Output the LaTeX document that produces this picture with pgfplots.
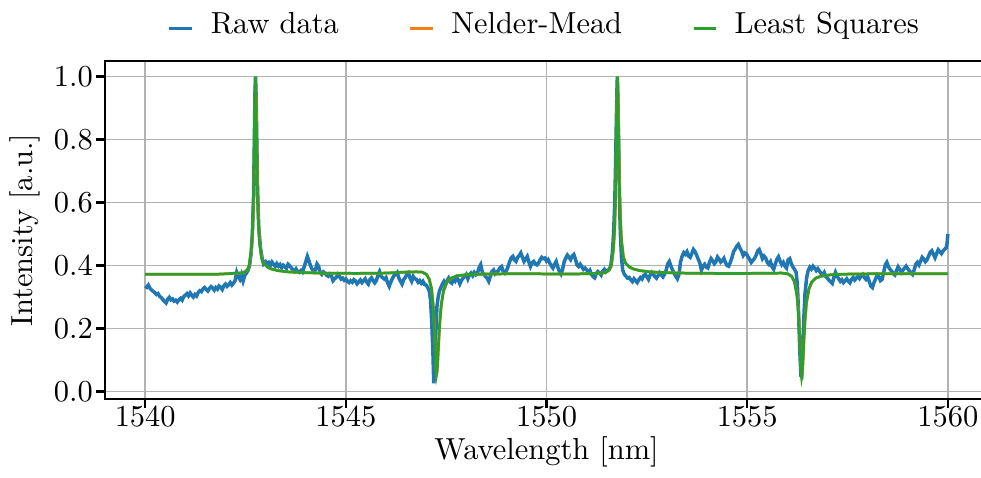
\documentclass[border=0pt]{standalone}
\usepackage{pgfplots}
\pgfplotsset{compat=1.18}
\definecolor{rawblue}{HTML}{1F77B4}
\definecolor{nmorange}{HTML}{FF7F0E}
\definecolor{lsgreen}{HTML}{2CA02C}

\begin{document}
\begin{tikzpicture}
\begin{axis}[
  scale only axis, width=290pt, height=111pt,
  xmin=1539, xmax=1561, ymin=-0.024, ymax=1.049,
  xtick={1540,1545,1550,1555,1560},
  ytick={0,0.2,0.4,0.6,0.8,1.0},
  x tick label style={/pgf/number format/1000 sep={}},
  y tick label style={/pgf/number format/.cd,fixed,fixed zerofill,precision=1},
  xticklabel shift=-4pt, yticklabel shift=-2.5pt,
  grid=major, grid style={color=black!30, line width=0.5pt},
  axis line style={line width=0.8pt},
  tick style={black, line width=0.8pt},
  tick align=outside, tick pos=left, major tick length=3pt,
  xlabel={Wavelength [nm]}, ylabel={Intensity [a.u.]},
  every axis x label/.append style={yshift=3.5pt},
  every axis y label/.append style={yshift=-2.5pt},
  legend columns=3,
  legend style={draw=none, fill=none, at={(0.5,1.03)}, anchor=south,
    /tikz/every even column/.append style={column sep=21pt}},
  legend cell align=left,
  legend image code/.code={\draw[#1,line width=0.9pt] (0pt,-1pt) -- (7.5pt,-1pt); \path (11pt,-1pt);},
]
% measured spectrum
\addplot[rawblue, line width=1.15pt] coordinates {
(1540.00,0.335) (1540.04,0.331) (1540.08,0.338) (1540.12,0.328) (1540.16,0.322) (1540.20,0.318)
(1540.24,0.314) (1540.28,0.308) (1540.32,0.311) (1540.36,0.302) (1540.40,0.298) (1540.44,0.292)
(1540.48,0.286) (1540.52,0.281) (1540.56,0.293) (1540.60,0.299) (1540.64,0.291) (1540.68,0.294)
(1540.72,0.287) (1540.76,0.290) (1540.80,0.284) (1540.84,0.291) (1540.88,0.296) (1540.92,0.290)
(1540.96,0.301) (1541.00,0.306) (1541.04,0.311) (1541.08,0.304) (1541.12,0.313) (1541.16,0.306)
(1541.20,0.300) (1541.24,0.308) (1541.28,0.303) (1541.32,0.314) (1541.36,0.320) (1541.40,0.317)
(1541.44,0.326) (1541.48,0.330) (1541.52,0.324) (1541.56,0.319) (1541.60,0.327) (1541.64,0.333)
(1541.68,0.329) (1541.72,0.322) (1541.76,0.330) (1541.80,0.325) (1541.84,0.335) (1541.88,0.331)
(1541.92,0.324) (1541.96,0.336) (1542.00,0.341) (1542.04,0.334) (1542.08,0.339) (1542.12,0.346)
(1542.16,0.338) (1542.20,0.344) (1542.24,0.352) (1542.28,0.378) (1542.32,0.364) (1542.36,0.356)
(1542.40,0.371) (1542.44,0.351) (1542.48,0.368) (1542.52,0.376) (1542.56,0.384) (1542.60,0.400)
(1542.64,0.440) (1542.67,0.500) (1542.70,0.620) (1542.72,0.800) (1542.735,0.950) (1542.75,1.000)
(1542.765,0.930) (1542.78,0.800) (1542.80,0.640) (1542.83,0.520) (1542.87,0.460) (1542.91,0.425)
(1542.95,0.405) (1543.00,0.412)
(1543.04,0.403) (1543.08,0.409) (1543.12,0.400) (1543.16,0.411) (1543.20,0.404) (1543.24,0.397)
(1543.28,0.406) (1543.32,0.398) (1543.36,0.403) (1543.40,0.393) (1543.44,0.401) (1543.48,0.396)
(1543.52,0.391) (1543.56,0.404) (1543.60,0.399) (1543.64,0.393) (1543.68,0.386) (1543.72,0.381)
(1543.76,0.389) (1543.80,0.380) (1543.84,0.378) (1543.88,0.384) (1543.92,0.379) (1543.96,0.395)
(1544.00,0.412) (1544.04,0.429) (1544.08,0.415) (1544.12,0.399) (1544.16,0.388) (1544.20,0.381)
(1544.24,0.386) (1544.28,0.405) (1544.32,0.398) (1544.36,0.378) (1544.40,0.372) (1544.44,0.380)
(1544.48,0.376) (1544.52,0.369) (1544.56,0.366) (1544.60,0.373) (1544.64,0.368) (1544.68,0.352)
(1544.72,0.358) (1544.76,0.362) (1544.80,0.372) (1544.84,0.366) (1544.88,0.357) (1544.92,0.360)
(1544.96,0.353) (1545.00,0.357) (1545.04,0.350) (1545.08,0.346) (1545.12,0.352) (1545.16,0.347)
(1545.20,0.355) (1545.24,0.351) (1545.28,0.342) (1545.32,0.348) (1545.36,0.354) (1545.40,0.346)
(1545.44,0.352) (1545.48,0.358) (1545.52,0.347) (1545.56,0.341) (1545.60,0.356) (1545.64,0.361)
(1545.68,0.352) (1545.72,0.345) (1545.76,0.352) (1545.80,0.370) (1545.84,0.381) (1545.88,0.366)
(1545.92,0.361) (1545.96,0.357) (1546.00,0.362) (1546.04,0.345) (1546.08,0.334) (1546.12,0.348)
(1546.16,0.359) (1546.20,0.368) (1546.24,0.372) (1546.28,0.378) (1546.32,0.361) (1546.36,0.350)
(1546.40,0.341) (1546.44,0.355) (1546.48,0.362) (1546.52,0.372) (1546.56,0.377) (1546.60,0.360)
(1546.64,0.350) (1546.68,0.365) (1546.72,0.358) (1546.76,0.356) (1546.80,0.347) (1546.84,0.352)
(1546.88,0.344) (1546.92,0.350) (1546.96,0.340) (1547.00,0.338) (1547.04,0.330) (1547.08,0.318)
(1547.11,0.290) (1547.14,0.220) (1547.17,0.120) (1547.19,0.026) (1547.21,0.060) (1547.24,0.180)
(1547.27,0.270) (1547.30,0.300) (1547.33,0.318) (1547.36,0.328) (1547.40,0.340) (1547.44,0.349)
(1547.48,0.337) (1547.52,0.352) (1547.56,0.360) (1547.60,0.348) (1547.64,0.344) (1547.68,0.355)
(1547.72,0.350) (1547.76,0.362) (1547.80,0.355) (1547.84,0.342) (1547.88,0.353) (1547.92,0.360)
(1547.96,0.366) (1548.00,0.372) (1548.04,0.358) (1548.08,0.371) (1548.12,0.376) (1548.16,0.368)
(1548.20,0.378) (1548.24,0.371) (1548.28,0.376) (1548.32,0.394) (1548.36,0.403) (1548.40,0.379)
(1548.44,0.372) (1548.48,0.365) (1548.52,0.360) (1548.56,0.350) (1548.60,0.366) (1548.64,0.381)
(1548.68,0.386) (1548.72,0.374) (1548.76,0.379) (1548.80,0.384) (1548.84,0.393) (1548.88,0.397)
(1548.92,0.381) (1548.96,0.376) (1549.00,0.384) (1549.04,0.396) (1549.08,0.412) (1549.12,0.424)
(1549.16,0.429) (1549.20,0.418) (1549.24,0.413) (1549.28,0.426) (1549.32,0.432) (1549.36,0.440)
(1549.40,0.426) (1549.44,0.413) (1549.48,0.421) (1549.52,0.429) (1549.56,0.411) (1549.60,0.397)
(1549.64,0.409) (1549.68,0.413) (1549.72,0.405) (1549.76,0.402) (1549.80,0.408) (1549.84,0.418)
(1549.88,0.426) (1549.92,0.422) (1549.96,0.424) (1550.00,0.414) (1550.04,0.419) (1550.08,0.408)
(1550.12,0.399) (1550.16,0.392) (1550.20,0.404) (1550.24,0.413) (1550.28,0.395) (1550.32,0.381)
(1550.36,0.373) (1550.40,0.388) (1550.44,0.412) (1550.48,0.424) (1550.52,0.433) (1550.56,0.426)
(1550.60,0.419) (1550.64,0.430) (1550.68,0.435) (1550.72,0.420) (1550.76,0.402) (1550.80,0.397)
(1550.84,0.404) (1550.88,0.396) (1550.92,0.388) (1550.96,0.392) (1551.00,0.386) (1551.04,0.379)
(1551.08,0.385) (1551.12,0.372) (1551.16,0.365) (1551.20,0.361) (1551.24,0.374) (1551.28,0.381)
(1551.32,0.377) (1551.36,0.370) (1551.40,0.382) (1551.44,0.388) (1551.48,0.380) (1551.52,0.385)
(1551.56,0.388) (1551.60,0.398) (1551.64,0.440) (1551.67,0.500) (1551.70,0.600) (1551.72,0.720)
(1551.74,0.860) (1551.755,0.960) (1551.765,1.000) (1551.78,0.920) (1551.80,0.760) (1551.82,0.600)
(1551.84,0.500) (1551.87,0.420) (1551.90,0.385)
(1551.94,0.372) (1551.98,0.366) (1552.02,0.360) (1552.06,0.362) (1552.10,0.355) (1552.14,0.349)
(1552.18,0.358) (1552.22,0.352) (1552.26,0.346) (1552.30,0.355) (1552.34,0.362) (1552.38,0.357)
(1552.42,0.368) (1552.46,0.372) (1552.50,0.364) (1552.54,0.356) (1552.58,0.369) (1552.62,0.378)
(1552.66,0.372) (1552.70,0.365) (1552.74,0.360) (1552.78,0.368) (1552.82,0.377) (1552.86,0.370)
(1552.90,0.364) (1552.94,0.372) (1552.98,0.385) (1553.02,0.405) (1553.06,0.413) (1553.10,0.398)
(1553.14,0.386) (1553.18,0.375) (1553.22,0.366) (1553.26,0.358) (1553.30,0.372) (1553.34,0.412)
(1553.38,0.430) (1553.42,0.441) (1553.46,0.436) (1553.50,0.444) (1553.54,0.430) (1553.58,0.426)
(1553.62,0.438) (1553.66,0.451) (1553.70,0.444) (1553.74,0.433) (1553.78,0.420) (1553.82,0.408)
(1553.86,0.385) (1553.90,0.398) (1553.94,0.404) (1553.98,0.395) (1554.02,0.392) (1554.06,0.410)
(1554.10,0.422) (1554.14,0.415) (1554.18,0.406) (1554.22,0.412) (1554.26,0.427) (1554.30,0.420)
(1554.34,0.411) (1554.38,0.416) (1554.42,0.423) (1554.46,0.409) (1554.50,0.400) (1554.54,0.398)
(1554.58,0.410) (1554.62,0.425) (1554.66,0.444) (1554.70,0.452) (1554.74,0.461) (1554.78,0.467)
(1554.82,0.455) (1554.86,0.446) (1554.90,0.432) (1554.94,0.440) (1554.98,0.437) (1555.02,0.428)
(1555.06,0.420) (1555.10,0.410) (1555.14,0.416) (1555.18,0.422) (1555.22,0.432) (1555.26,0.446)
(1555.30,0.451) (1555.34,0.438) (1555.38,0.422) (1555.42,0.430) (1555.46,0.424) (1555.50,0.410)
(1555.54,0.404) (1555.58,0.412) (1555.62,0.396) (1555.66,0.388) (1555.70,0.405) (1555.74,0.420)
(1555.78,0.428) (1555.82,0.414) (1555.86,0.403) (1555.90,0.410) (1555.94,0.398) (1555.98,0.392)
(1556.02,0.418) (1556.06,0.422) (1556.10,0.406) (1556.14,0.395) (1556.18,0.388) (1556.22,0.378)
(1556.25,0.340) (1556.28,0.250) (1556.31,0.130) (1556.34,0.050) (1556.36,0.048) (1556.38,0.110)
(1556.41,0.230) (1556.44,0.310) (1556.48,0.360) (1556.52,0.385) (1556.56,0.395) (1556.60,0.389)
(1556.64,0.398) (1556.68,0.392) (1556.72,0.384) (1556.76,0.390) (1556.80,0.382) (1556.84,0.375)
(1556.88,0.370) (1556.92,0.378) (1556.96,0.365) (1557.00,0.360) (1557.04,0.353) (1557.08,0.348)
(1557.12,0.343) (1557.16,0.362) (1557.20,0.378) (1557.24,0.366) (1557.28,0.358) (1557.32,0.350)
(1557.36,0.355) (1557.40,0.346) (1557.44,0.352) (1557.48,0.358) (1557.52,0.350) (1557.56,0.345)
(1557.60,0.356) (1557.64,0.362) (1557.68,0.354) (1557.72,0.360) (1557.76,0.366) (1557.80,0.359)
(1557.84,0.368) (1557.88,0.372) (1557.92,0.362) (1557.96,0.356) (1558.00,0.364) (1558.04,0.350)
(1558.08,0.335) (1558.12,0.330) (1558.16,0.346) (1558.20,0.358) (1558.24,0.370) (1558.28,0.364)
(1558.32,0.352) (1558.36,0.356) (1558.40,0.378) (1558.44,0.402) (1558.48,0.410) (1558.52,0.396)
(1558.56,0.388) (1558.60,0.382) (1558.64,0.374) (1558.68,0.370) (1558.72,0.384) (1558.76,0.396)
(1558.80,0.388) (1558.84,0.378) (1558.88,0.385) (1558.92,0.392) (1558.96,0.398) (1559.00,0.390)
(1559.04,0.383) (1559.08,0.378) (1559.12,0.372) (1559.16,0.386) (1559.20,0.404) (1559.24,0.410)
(1559.28,0.402) (1559.32,0.414) (1559.36,0.426) (1559.40,0.420) (1559.44,0.412) (1559.48,0.418)
(1559.52,0.430) (1559.56,0.442) (1559.60,0.447) (1559.64,0.436) (1559.68,0.425) (1559.72,0.438)
(1559.76,0.450) (1559.80,0.444) (1559.84,0.438) (1559.88,0.446) (1559.92,0.452) (1559.96,0.457)
(1559.98,0.470) (1560.00,0.500)
};
\addlegendentry{Raw data}
% Nelder-Mead fit
\addplot[nmorange, line width=0.9pt] coordinates {
(1540.00,0.372) (1541.00,0.372) (1541.80,0.3725) (1542.05,0.374) (1542.30,0.376) (1542.45,0.377)
(1542.55,0.386) (1542.60,0.402) (1542.65,0.450) (1542.68,0.515) (1542.70,0.600) (1542.72,0.755)
(1542.735,0.912) (1542.75,0.998) (1542.765,0.935) (1542.78,0.805) (1542.80,0.652) (1542.82,0.556)
(1542.85,0.479) (1542.90,0.426) (1542.95,0.408) (1543.05,0.395) (1543.15,0.389) (1543.30,0.384)
(1543.55,0.380) (1543.85,0.378) (1544.35,0.376) (1545.25,0.375) (1546.00,0.376) (1546.46,0.379)
(1546.76,0.380) (1546.91,0.379) (1547.01,0.372) (1547.08,0.357) (1547.14,0.325) (1547.18,0.271)
(1547.21,0.198) (1547.23,0.125) (1547.245,0.073) (1547.26,0.055) (1547.275,0.064) (1547.29,0.093)
(1547.31,0.144) (1547.34,0.215) (1547.38,0.276) (1547.44,0.323) (1547.51,0.346) (1547.61,0.359)
(1547.76,0.367) (1548.01,0.371) (1548.46,0.373) (1549.26,0.374) (1550.57,0.373) (1551.07,0.374)
(1551.32,0.376) (1551.47,0.377) (1551.57,0.386) (1551.62,0.402) (1551.67,0.452) (1551.70,0.516)
(1551.72,0.602) (1551.74,0.758) (1551.755,0.914) (1551.77,0.997) (1551.785,0.936) (1551.80,0.806)
(1551.82,0.653) (1551.84,0.557) (1551.87,0.479) (1551.92,0.426) (1551.97,0.408) (1552.07,0.395)
(1552.17,0.389) (1552.32,0.384) (1552.57,0.380) (1552.87,0.378) (1553.37,0.376) (1554.27,0.375)
(1555.00,0.375) (1555.86,0.376) (1556.01,0.374) (1556.11,0.366) (1556.18,0.349) (1556.24,0.308)
(1556.28,0.256) (1556.31,0.180) (1556.33,0.112) (1556.345,0.065) (1556.36,0.050) (1556.375,0.060)
(1556.39,0.092) (1556.41,0.148) (1556.44,0.221) (1556.48,0.283) (1556.54,0.325) (1556.61,0.347)
(1556.71,0.360) (1556.86,0.367) (1557.11,0.371) (1557.56,0.373) (1558.36,0.374) (1560.00,0.374)
};
\addlegendentry{Nelder-Mead}
% least-squares fit
\addplot[lsgreen, line width=0.9pt] coordinates {
(1540.00,0.372) (1541.00,0.372) (1541.80,0.3725) (1542.045,0.374) (1542.295,0.376) (1542.445,0.377)
(1542.545,0.386) (1542.595,0.402) (1542.645,0.453) (1542.675,0.517) (1542.695,0.603) (1542.715,0.760)
(1542.730,0.916) (1542.745,1.000) (1542.760,0.937) (1542.775,0.807) (1542.795,0.654) (1542.815,0.557)
(1542.845,0.479) (1542.895,0.426) (1542.945,0.408) (1543.045,0.395) (1543.145,0.389) (1543.295,0.384)
(1543.545,0.380) (1543.845,0.378) (1544.345,0.376) (1545.245,0.375) (1546.000,0.376) (1546.455,0.379)
(1546.755,0.380) (1546.905,0.379) (1547.005,0.372) (1547.075,0.357) (1547.135,0.325) (1547.175,0.271)
(1547.205,0.198) (1547.225,0.125) (1547.240,0.073) (1547.255,0.051) (1547.270,0.062) (1547.285,0.091)
(1547.305,0.142) (1547.335,0.213) (1547.375,0.275) (1547.435,0.322) (1547.505,0.345) (1547.605,0.359)
(1547.755,0.367) (1548.005,0.371) (1548.455,0.373) (1549.255,0.374) (1550.565,0.373) (1551.065,0.374)
(1551.315,0.376) (1551.465,0.377) (1551.565,0.386) (1551.615,0.402) (1551.665,0.453) (1551.695,0.517)
(1551.715,0.603) (1551.735,0.760) (1551.750,0.916) (1551.765,1.000) (1551.780,0.937) (1551.795,0.807)
(1551.815,0.654) (1551.835,0.557) (1551.865,0.479) (1551.915,0.426) (1551.965,0.408) (1552.065,0.395)
(1552.165,0.389) (1552.315,0.384) (1552.565,0.380) (1552.865,0.378) (1553.365,0.376) (1554.265,0.375)
(1555.000,0.375) (1555.855,0.376) (1556.005,0.374) (1556.105,0.366) (1556.175,0.349) (1556.235,0.308)
(1556.275,0.256) (1556.305,0.180) (1556.325,0.112) (1556.340,0.065) (1556.355,0.046) (1556.370,0.058)
(1556.385,0.091) (1556.405,0.147) (1556.435,0.220) (1556.475,0.282) (1556.535,0.325) (1556.605,0.347)
(1556.705,0.360) (1556.855,0.367) (1557.105,0.371) (1557.555,0.373) (1558.355,0.374) (1560.000,0.374)
};
\addlegendentry{Least Squares}
\end{axis}
% the right spine falls just outside the reference's frame
\coordinate (bl) at (current bounding box.south west);
\coordinate (tr) at (current bounding box.north east);
\coordinate (ax) at (current axis.south east);
\pgfresetboundingbox
\useasboundingbox (bl) rectangle ([xshift=-2.3pt]ax |- tr);
\end{tikzpicture}
\end{document}
